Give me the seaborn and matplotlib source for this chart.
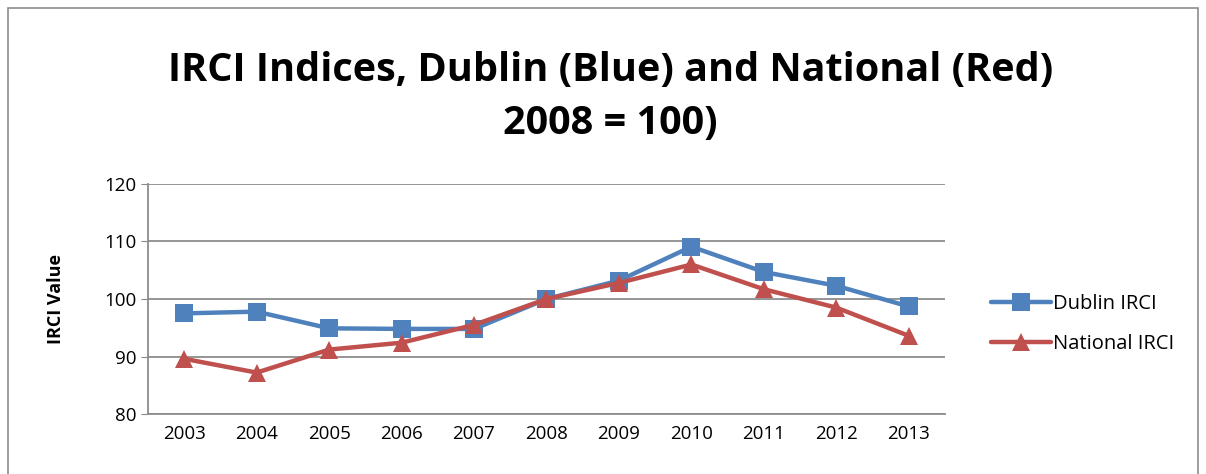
import numpy as np
import pandas as pd
import seaborn as sns
from matplotlib import pyplot as plt
from matplotlib.patches import Rectangle

years = [2003, 2004, 2005, 2006, 2007, 2008, 2009, 2010, 2011, 2012, 2013]
dublin = [97.5, 97.8, 94.9, 94.8, 94.8, 100.0, 103.2, 109.1, 104.7, 102.3, 98.7]
national = [89.6, 87.2, 91.2, 92.4, 95.5, 100.0, 102.8, 106.0, 101.7, 98.5, 93.6]
series_names = ['Dublin IRCI', 'National IRCI']
yticks = [80, 90, 100, 110, 120]

df = pd.DataFrame({
    'Year': years * 2,
    'Value': dublin + national,
    'Series': [series_names[0]] * len(years) + [series_names[1]] * len(years),
})

sns.set_style("white")
plt.rcParams['font.family'] = ['Open Sans', 'DejaVu Sans']
plt.rcParams['text.color'] = 'black'
plt.rcParams['axes.labelcolor'] = 'black'

fig = plt.figure(figsize=(12.06, 4.74), dpi=100)
ax = fig.add_axes([148 / 1206, 1 - 414 / 474, 797 / 1206, 230 / 474])

pal = {series_names[0]: '#4F81BD', series_names[1]: '#C0504D'}
sns.lineplot(data=df, x='Year', y='Value', hue='Series', style='Series',
             markers={series_names[0]: 's', series_names[1]: '^'}, dashes=False,
             palette=pal, linewidth=3.2, markersize=13.5, markeredgewidth=0,
             ax=ax, legend=True)

ax.set_xlim(2002.5, 2013.5)
ax.set_ylim(80, 120)
ax.set_yticks(yticks)
ax.set_xticks(years)
ax.tick_params(axis='both', labelsize=13.5, colors='black')
ax.tick_params(axis='y', length=5, color='#888888', direction='out', left=True)
ax.tick_params(axis='x', length=0, pad=8)
ax.grid(axis='y', color='#8c8c8c', linewidth=1.3)
ax.grid(axis='x', visible=False)
for s in ['top', 'right']:
    ax.spines[s].set_visible(False)
ax.spines['left'].set_color('#8c8c8c')
ax.spines['left'].set_linewidth(1.3)
ax.spines['bottom'].set_color('#8c8c8c')
ax.spines['bottom'].set_linewidth(1.3)
ax.set_xlabel('')
ax.set_ylabel('IRCI Value', fontsize=13, fontweight='bold', labelpad=28, color='black')

leg = ax.legend(loc='center left', bbox_to_anchor=(1.045, 0.39), frameon=False,
                fontsize=14.5, handlelength=3.0, handletextpad=0.1, labelspacing=1.0,
                borderpad=0)
for h in leg.legend_handles:
    h.set_markersize(13.5)
    h.set_linewidth(3.2)
for t in leg.get_texts():
    t.set_color('black')

fig.text(0.506, 0.795, 'IRCI Indices, Dublin (Blue) and National (Red)\n2008 = 100)',
         ha='center', va='center', fontsize=28.5, fontweight='bold', linespacing=1.45,
         color='black')

fig.patches.append(Rectangle((8 / 1206, -0.1), 1190 / 1206, 1.1 - 8 / 474,
                             transform=fig.transFigure, fill=False,
                             edgecolor='#8c8c8c', linewidth=1.2))

fig.savefig('out.png', dpi=100)
